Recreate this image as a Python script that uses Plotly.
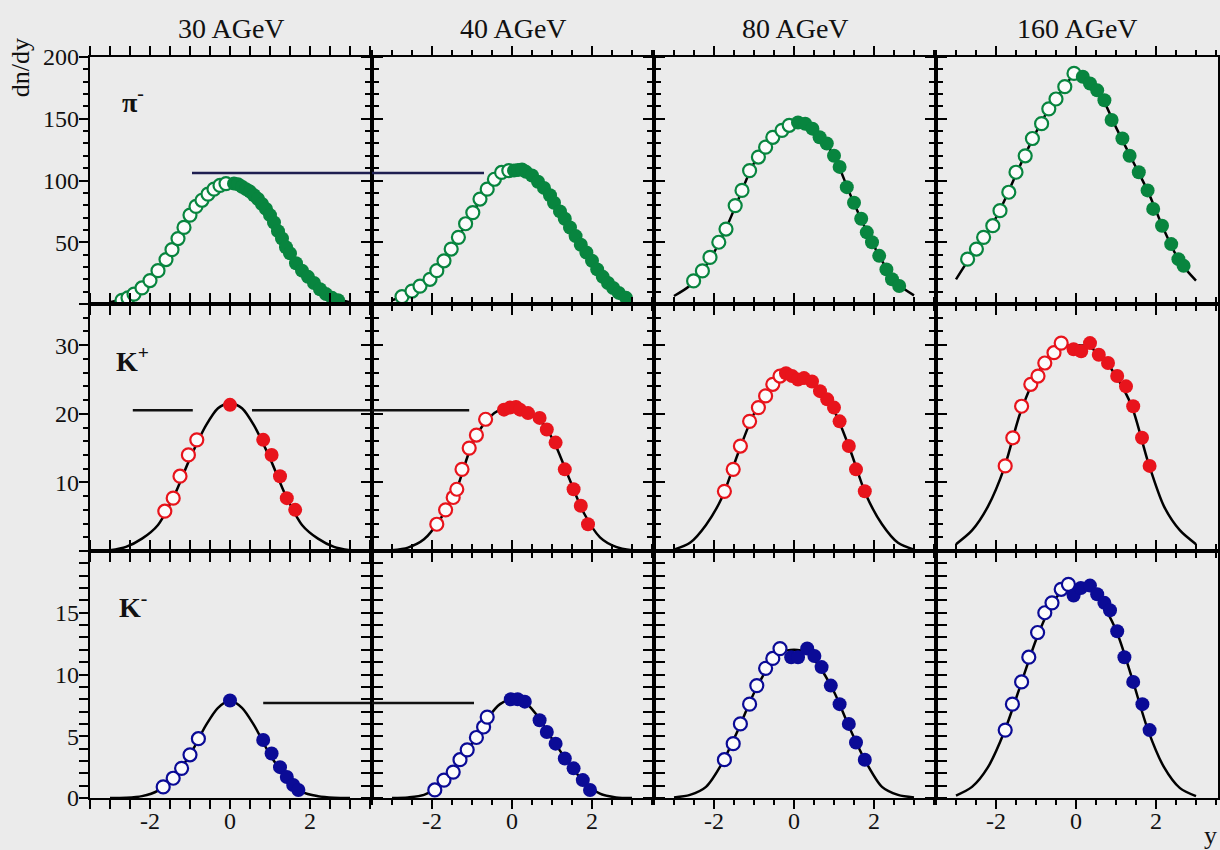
import plotly.graph_objects as go
from plotly.subplots import make_subplots

# ---------------- data ----------------
energies = ["30 AGeV", "40 AGeV", "80 AGeV", "160 AGeV"]
particles = ["π<sup>-</sup>", "K<sup>+</sup>", "K<sup>-</sup>"]

fit_grid = [-3.0, -2.6, -2.2, -1.8, -1.4, -1.0, -0.6, -0.3, 0.0, 0.3, 0.6, 1.0, 1.4, 1.8, 2.2, 2.6, 3.0]

# pi- 30 AGeV
pim30_open_x = [-2.7, -2.55, -2.4, -2.2, -2.0, -1.8, -1.6, -1.45, -1.3, -1.15, -1.0, -0.85, -0.7, -0.55, -0.4, -0.25, -0.1]
pim30_open_y = [3, 5, 8, 13, 19, 27, 36, 44, 53, 62, 72, 79, 84, 89, 93, 96, 97.5]
pim30_fill_x = [0.1, 0.2, 0.3, 0.4, 0.5, 0.6, 0.7, 0.8, 0.9, 1.0, 1.1, 1.2, 1.3, 1.4, 1.5, 1.65, 1.8, 1.95, 2.1, 2.25, 2.4, 2.55, 2.7]
pim30_fill_y = [97.5, 97, 95, 93, 91, 88, 85, 81, 77, 72, 66, 59, 53, 46, 41, 33, 27, 22, 17, 12, 8, 5, 3]
pim30_fit = [1.5, 5, 14, 27, 46, 72, 88, 95, 98, 95, 88, 72, 46, 27, 14, 5, 1.5]

# pi- 40 AGeV
pim40_open_x = [-2.75, -2.5, -2.3, -2.05, -1.88, -1.7, -1.52, -1.34, -1.16, -0.98, -0.8, -0.62, -0.44, -0.26, -0.08]
pim40_open_y = [6, 10.5, 14.5, 20, 27, 35, 44.5, 54, 65, 74, 85, 93, 101, 106.5, 108]
pim40_fill_x = [0.05, 0.15, 0.25, 0.35, 0.5, 0.65, 0.8, 0.95, 1.05, 1.2, 1.32, 1.45, 1.59, 1.72, 1.86, 2.0, 2.13, 2.27, 2.4, 2.53, 2.67, 2.85]
pim40_fill_y = [108, 108.5, 109, 107, 104, 99, 94, 88, 82, 75, 69, 62, 55, 48, 41.7, 35, 28, 22, 17, 13, 9, 5]
pim40_fit = [3, 8, 16, 31, 51, 73, 94, 105, 108, 108, 100, 84, 65, 45, 25, 11, 3]

# pi- 80 AGeV
pim80_open_x = [-2.51, -2.29, -2.1, -1.88, -1.7, -1.47, -1.3, -1.11, -0.89, -0.71, -0.53, -0.3, -0.12]
pim80_open_y = [18.7, 26.8, 37.7, 50, 60.7, 79.7, 92, 108, 119, 127, 135, 140.6, 144.7]
pim80_fill_x = [0.1, 0.28, 0.46, 0.64, 0.82, 1.0, 1.14, 1.32, 1.5, 1.68, 1.82, 1.95, 2.13, 2.31, 2.45, 2.63]
pim80_fill_y = [147, 146, 142, 135, 130, 120, 111, 94.6, 82, 69, 58, 50, 39, 28, 20, 14.6]
pim80_fit = [6.5, 15, 31, 54, 84, 114, 131, 141, 146, 146, 137, 120, 89, 60, 35, 16, 7]

# pi- 160 AGeV
pim160_open_x = [-2.71, -2.49, -2.31, -2.08, -1.9, -1.68, -1.5, -1.27, -1.09, -0.86, -0.68, -0.5, -0.28, -0.05]
pim160_open_y = [36.3, 44.5, 54, 63.4, 75.6, 90.5, 106.7, 120, 134, 146, 158, 166, 176, 186.7]
pim160_fill_x = [0.17, 0.35, 0.53, 0.71, 0.89, 1.16, 1.34, 1.57, 1.79, 1.93, 2.15, 2.38, 2.56, 2.69]
pim160_fill_y = [184, 178.6, 173, 165, 149, 134, 120, 106.7, 92, 77, 63.4, 48.5, 36.3, 30.9]
pim160_fit = [20, 40, 58, 83, 112, 139, 162, 175, 187, 180, 170, 143, 117, 91, 60, 34, 19]

# K+ 30 AGeV
kp30_open_x = [-1.63, -1.42, -1.25, -1.04, -0.83]
kp30_open_y = [5.8, 7.7, 10.9, 14.0, 16.2]
kp30_fill_x = [0.0, 0.83, 1.04, 1.25, 1.42, 1.63]
kp30_fill_y = [21.3, 16.2, 14.0, 10.9, 7.7, 6.0]
kp30_fit = [0.1, 0.6, 1.8, 3.8, 8, 13.5, 18.3, 20.8, 21.6, 20.8, 18.3, 13.5, 8, 3.8, 1.8, 0.6, 0.1]

# K+ 40 AGeV
kp40_open_x = [-1.88, -1.66, -1.47, -1.38, -1.25, -1.07, -0.89, -0.66]
kp40_open_y = [3.9, 6.0, 7.8, 9.0, 11.9, 15.0, 16.9, 19.2]
kp40_fill_x = [-0.2, -0.05, 0.1, 0.2, 0.4, 0.69, 0.87, 1.09, 1.32, 1.54, 1.72, 1.9]
kp40_fill_y = [20.6, 20.9, 21.0, 20.6, 20.1, 19.4, 17.7, 15.8, 11.9, 9.0, 6.6, 3.9]
kp40_fit = [0.1, 0.5, 1.7, 4.6, 8.8, 15.5, 19.3, 20.6, 21.0, 20.5, 19.6, 16.5, 11, 5.5, 2.0, 0.6, 0.1]

# K+ 80 AGeV
kp80_open_x = [-1.74, -1.52, -1.34, -1.11, -0.89, -0.71, -0.53, -0.35]
kp80_open_y = [8.7, 11.9, 15.3, 18.9, 20.9, 22.6, 24.3, 25.5]
kp80_fill_x = [-0.2, -0.05, 0.1, 0.25, 0.45, 0.65, 0.83, 1.0, 1.14, 1.37, 1.55, 1.77]
kp80_fill_y = [25.9, 25.5, 25.0, 25.2, 24.7, 23.3, 22.1, 20.9, 18.9, 15.3, 11.9, 8.7]
kp80_fit = [0.2, 1.2, 3.8, 7.8, 14.2, 20.0, 23.5, 25.0, 25.5, 25.2, 23.8, 20.5, 14.8, 8.2, 3.9, 1.2, 0.2]

# K+ 160 AGeV
kp160_open_x = [-1.77, -1.58, -1.36, -1.13, -0.95, -0.78, -0.55, -0.37]
kp160_open_y = [12.4, 16.5, 21.1, 24.3, 25.5, 27.4, 28.9, 30.3]
kp160_fill_x = [-0.06, 0.13, 0.35, 0.57, 0.8, 1.03, 1.25, 1.43, 1.65, 1.84]
kp160_fill_y = [29.4, 29.1, 30.3, 28.6, 27.4, 25.5, 24.0, 21.1, 16.5, 12.4]
kp160_fit = [1.0, 3.0, 6.5, 12, 20, 25.5, 28.6, 29.8, 30.0, 29.8, 28.6, 25.5, 21, 13, 6.5, 3.0, 1.0]

# K- 30 AGeV
km30_open_x = [-1.67, -1.42, -1.21, -1.0, -0.79]
km30_open_y = [0.9, 1.6, 2.4, 3.5, 4.8]
km30_fill_x = [0.0, 0.83, 1.04, 1.25, 1.42, 1.58, 1.71]
km30_fill_y = [7.9, 4.7, 3.6, 2.5, 1.7, 1.05, 0.65]
km30_fit = [0.0, 0.02, 0.15, 0.6, 1.7, 3.5, 5.9, 7.3, 7.9, 7.3, 5.9, 3.5, 1.7, 0.5, 0.15, 0.02, 0.0]

# K- 40 AGeV
km40_open_x = [-1.93, -1.7, -1.47, -1.3, -1.12, -0.89, -0.71, -0.62]
km40_open_y = [0.65, 1.45, 2.1, 3.1, 3.9, 4.9, 5.75, 6.55]
km40_fill_x = [-0.03, 0.14, 0.32, 0.69, 0.87, 1.09, 1.32, 1.54, 1.77, 1.95]
km40_fill_y = [8.0, 8.0, 7.8, 6.3, 5.35, 4.4, 3.2, 2.4, 1.45, 0.65]
km40_fit = [0.0, 0.05, 0.25, 1.0, 2.5, 4.4, 6.5, 7.6, 8.0, 7.8, 6.8, 4.8, 2.9, 1.3, 0.35, 0.05, 0.0]

# K- 80 AGeV
km80_open_x = [-1.74, -1.52, -1.34, -1.11, -0.93, -0.71, -0.53, -0.35]
km80_open_y = [3.1, 4.4, 6.0, 7.6, 9.1, 10.5, 11.3, 12.1]
km80_fill_x = [-0.07, 0.1, 0.33, 0.51, 0.69, 0.92, 1.14, 1.37, 1.55, 1.77]
km80_fill_y = [11.4, 11.4, 12.1, 11.5, 10.6, 9.1, 7.6, 6.0, 4.5, 3.1]
km80_fit = [0.05, 0.25, 0.9, 2.8, 5.5, 8.5, 10.8, 11.8, 12.0, 11.8, 10.8, 8.6, 5.6, 2.9, 0.9, 0.25, 0.05]

# K- 160 AGeV
km160_open_x = [-1.77, -1.59, -1.36, -1.18, -0.96, -0.78, -0.6, -0.37, -0.19]
km160_open_y = [5.5, 7.6, 9.4, 11.4, 13.4, 15.0, 15.8, 16.9, 17.3]
km160_fill_x = [-0.06, 0.12, 0.35, 0.53, 0.71, 0.85, 1.03, 1.21, 1.43, 1.66, 1.84]
km160_fill_y = [16.4, 17.0, 17.2, 16.5, 15.8, 15.2, 13.5, 11.4, 9.4, 7.6, 5.5]
km160_fit = [0.2, 0.9, 2.5, 5.3, 9.0, 12.8, 15.7, 16.9, 17.2, 17.0, 16.0, 13.6, 9.7, 5.5, 2.5, 0.8, 0.15]

# horizontal reference lines (level per row, segments per panel as (x-start, x-end))
ref_levels = [106, 20.5, 7.7]
ref_pim30_x = [-0.95, 3.55]
ref_pim40_x = [-3.5, -0.7]
ref_kp30a_x = [-2.43, -0.93]
ref_kp30b_x = [0.55, 3.55]
ref_kp40_x = [-3.5, -1.07]
ref_km30_x = [0.83, 3.55]
ref_km40_x = [-3.5, -0.95]

# axis ticks
x_range = [-3.5, 3.55]
x_tickvals = [-2, 0, 2]
x_ticktext = ["-2", "0", "2"]
row_ranges = [[0, 200], [0, 36], [0, 20]]
row_tickvals = [[0, 50, 100, 150, 200], [0, 10, 20, 30], [0, 5, 10, 15, 20]]
row_label_vals = [[50, 100, 150, 200], [10, 20, 30], [0, 5, 10, 15]]
row_label_text = [["50", "100", "150", "200"], ["10", "20", "30"], ["0", "5", "10", "15"]]
row_minor = [10, 2, 1]

# ---------------- figure ----------------
panels = [
    (1, 1, pim30_open_x, pim30_open_y, pim30_fill_x, pim30_fill_y, pim30_fit),
    (1, 2, pim40_open_x, pim40_open_y, pim40_fill_x, pim40_fill_y, pim40_fit),
    (1, 3, pim80_open_x, pim80_open_y, pim80_fill_x, pim80_fill_y, pim80_fit),
    (1, 4, pim160_open_x, pim160_open_y, pim160_fill_x, pim160_fill_y, pim160_fit),
    (2, 1, kp30_open_x, kp30_open_y, kp30_fill_x, kp30_fill_y, kp30_fit),
    (2, 2, kp40_open_x, kp40_open_y, kp40_fill_x, kp40_fill_y, kp40_fit),
    (2, 3, kp80_open_x, kp80_open_y, kp80_fill_x, kp80_fill_y, kp80_fit),
    (2, 4, kp160_open_x, kp160_open_y, kp160_fill_x, kp160_fill_y, kp160_fit),
    (3, 1, km30_open_x, km30_open_y, km30_fill_x, km30_fill_y, km30_fit),
    (3, 2, km40_open_x, km40_open_y, km40_fill_x, km40_fill_y, km40_fit),
    (3, 3, km80_open_x, km80_open_y, km80_fill_x, km80_fill_y, km80_fit),
    (3, 4, km160_open_x, km160_open_y, km160_fill_x, km160_fill_y, km160_fit),
]
row_colors = ["#08853f", "#e8141c", "#0b0b96"]

fig = make_subplots(rows=3, cols=4, horizontal_spacing=0, vertical_spacing=0)

for (r, c, ox, oy, fx, fy, fit) in panels:
    col = row_colors[r - 1]
    fig.add_trace(go.Scatter(x=fit_grid, y=fit, mode="lines",
                             line=dict(color="black", width=2.5, shape="spline", smoothing=0.8)),
                  row=r, col=c)
    fig.add_trace(go.Scatter(x=ox, y=oy, mode="markers",
                             marker=dict(symbol="circle", size=13, color="#fbfbfb",
                                         line=dict(color=col, width=2.2))), row=r, col=c)
    fig.add_trace(go.Scatter(x=fx, y=fy, mode="markers",
                             marker=dict(symbol="circle", size=14, color=col)), row=r, col=c)

ref_segments = [
    (1, 1, ref_pim30_x, "#1e1e50"), (1, 2, ref_pim40_x, "#1e1e50"),
    (2, 1, ref_kp30a_x, "#111111"), (2, 1, ref_kp30b_x, "#111111"), (2, 2, ref_kp40_x, "#111111"),
    (3, 1, ref_km30_x, "#111111"), (3, 2, ref_km40_x, "#111111"),
]
for (r, c, xs, lc) in ref_segments:
    lvl = ref_levels[r - 1]
    fig.add_trace(go.Scatter(x=xs, y=[lvl, lvl], mode="lines",
                             line=dict(color=lc, width=2.5)), row=r, col=c)

serif = "Liberation Serif"
tickfont = dict(family=serif, size=24, color="#111111")

# main axes: frame + ticks on every panel edge (labels are carried by overlay axes below)
for r in range(1, 4):
    for c in range(1, 5):
        fig.update_xaxes(range=x_range, showgrid=False, zeroline=False, automargin=False,
                         showline=True, linecolor="black", linewidth=2, mirror="allticks",
                         ticks="outside", ticklen=9, tickwidth=2, tickcolor="black",
                         tickmode="array", tickvals=x_tickvals, ticktext=x_ticktext,
                         minor=dict(ticks="outside", tickmode="linear", dtick=0.5, tick0=0,
                                    ticklen=5, tickcolor="black"),
                         showticklabels=False, row=r, col=c)
        fig.update_yaxes(range=row_ranges[r - 1], showgrid=False, zeroline=False, automargin=False,
                         showline=True, linecolor="black", linewidth=2, mirror="allticks",
                         ticks="outside", ticklen=9, tickwidth=2, tickcolor="black",
                         tickmode="array", tickvals=row_tickvals[r - 1],
                         minor=dict(ticks="outside", tickmode="linear", dtick=row_minor[r - 1], tick0=0,
                                    ticklen=5, tickcolor="black"),
                         showticklabels=False, row=r, col=c)

# overlay axes that only carry the tick labels
for i, n in enumerate([1, 5, 9]):
    ov = 13 + i
    ax_main = "y" if n == 1 else f"y{n}"
    xa_main = "x" if n == 1 else f"x{n}"
    fig.update_layout(**{f"yaxis{ov}": dict(overlaying=ax_main, anchor=xa_main, side="left",
                                             range=row_ranges[i], showline=False, showgrid=False,
                                             zeroline=False, ticks="", tickmode="array", automargin=False,
                                             tickvals=row_label_vals[i], ticktext=row_label_text[i],
                                             tickfont=tickfont, ticklabelstandoff=10)})
    fig.add_trace(go.Scatter(x=[], y=[], xaxis=xa_main, yaxis=f"y{ov}"))
for j, n in enumerate([9, 10, 11, 12]):
    ov = 13 + j
    fig.update_layout(**{f"xaxis{ov}": dict(overlaying=f"x{n}", anchor=f"y{n}", side="bottom",
                                             range=x_range, showline=False, showgrid=False,
                                             zeroline=False, ticks="", tickmode="array", automargin=False,
                                             tickvals=x_tickvals, ticktext=x_ticktext,
                                             tickfont=tickfont, ticklabelstandoff=6)})
    fig.add_trace(go.Scatter(x=[], y=[], xaxis=f"x{ov}", yaxis=f"y{n}"))

annotations = []
for i, e in enumerate(energies):
    annotations.append(dict(text=e, xref="paper", yref="paper", x=(i + 0.5) / 4, y=1.039,
                            xanchor="center", yanchor="middle", showarrow=False,
                            font=dict(family=serif, size=28, color="#111111")))
label_paper_pos = [(0.038, 0.9417), (0.038, 0.5923), (0.038, 0.2593)]
for i, p in enumerate(particles):
    annotations.append(dict(text="<b>" + p + "</b>", xref="paper", yref="paper",
                            x=label_paper_pos[i][0], y=label_paper_pos[i][1],
                            xanchor="center", yanchor="middle", showarrow=False,
                            font=dict(family=serif, size=28, color="#111111")))
annotations.append(dict(text="dn/dy", xref="paper", yref="paper", x=-0.062, y=0.985,
                        xanchor="center", yanchor="middle", textangle=-90, showarrow=False,
                        font=dict(family=serif, size=26, color="#111111")))
annotations.append(dict(text="y", xref="paper", yref="paper", x=0.993, y=-0.05,
                        xanchor="center", yanchor="middle", showarrow=False,
                        font=dict(family=serif, size=26, color="#111111")))

fig.update_layout(width=1220, height=850, margin=dict(l=90, r=2, t=57, b=52, autoexpand=False),
                  paper_bgcolor="#ebebeb", plot_bgcolor="rgba(0,0,0,0)",
                  showlegend=False, hovermode=False, annotations=annotations)

fig.write_html("out.html")
